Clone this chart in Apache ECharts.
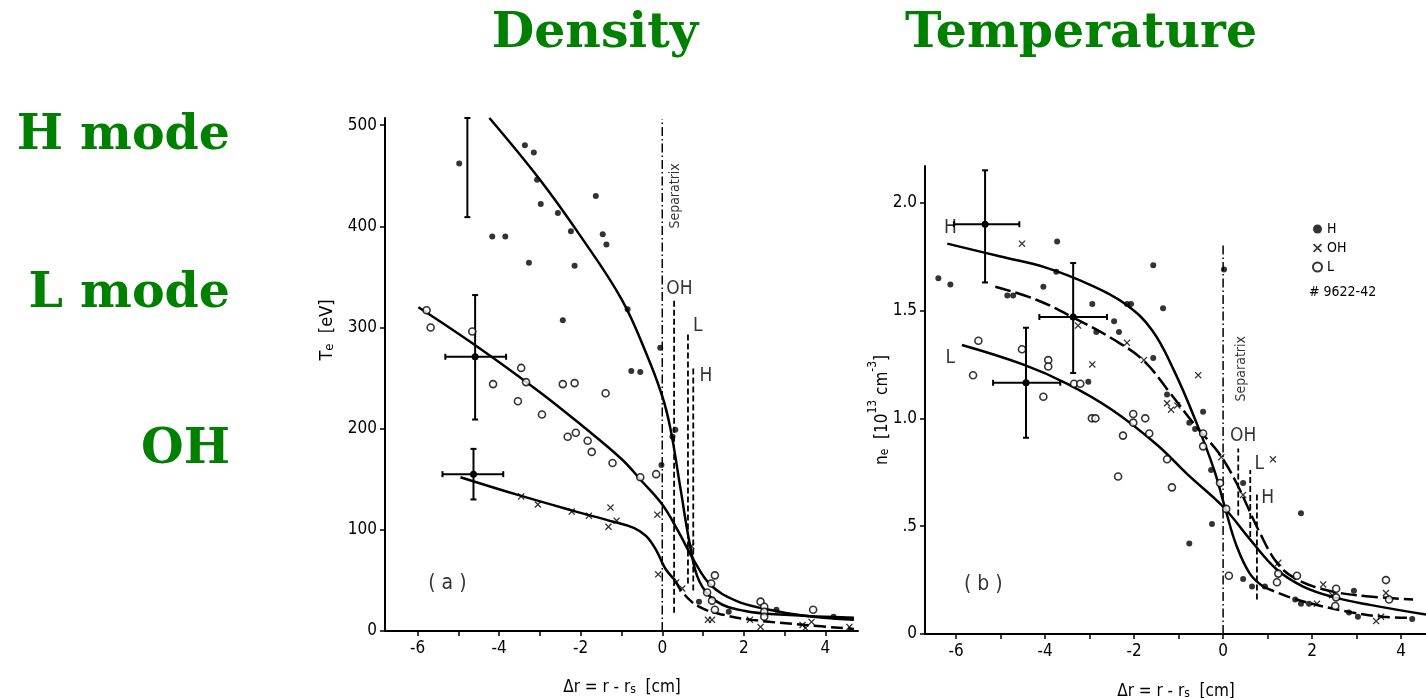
<!DOCTYPE html>
<html><head><meta charset="utf-8">
<script src="https://cdn.jsdelivr.net/npm/echarts@6/dist/echarts.min.js"></script>
<style>html,body{margin:0;padding:0;background:#fff}#c{width:1426px;height:698px}</style>
</head><body><div id="c"></div>
<script>
// ---------- Panel (a): Te [eV] ----------
const aH_dots = [[-4.98,462],[-3.37,480],[-3.15,473],[-3.07,446],[-2.98,422],[-4.17,390],[-3.85,390],[-3.27,364],[-2.56,413],[-1.63,430],[-2.24,395],[-1.46,392],[-1.37,382],[-2.15,361],[-2.44,307],[-0.85,318],[-0.76,257],[-0.54,256],[-0.05,280],[-0.02,164],[0.32,199],[0.25,192],[0.9,29],[1.63,19],[2.8,21],[4.2,14]];
const aL_circles = [[-5.78,317],[-5.68,300],[-4.66,296],[-3.46,260],[-3.34,246],[-4.15,244],[-3.54,227],[-2.95,214],[-2.44,244],[-2.15,245],[-1.39,235],[-2.32,192],[-2.12,196],[-1.83,188],[-1.73,177],[-1.22,166],[-0.54,152],[-0.15,155],[1.29,55],[1.2,47],[1.1,38],[1.22,30],[1.29,21],[2.41,29],[2.5,24],[2.5,19],[2.5,14],[3.7,21]];
const aOH_crosses = [[-3.46,133],[-3.05,125],[-2.22,118],[-1.8,114],[-1.27,122],[-1.32,103],[-1.12,109],[-0.12,115],[-0.1,56],[0.34,48],[0.49,42],[0.71,84],[1.12,11],[1.22,11],[2.15,11],[2.41,4],[3.44,6],[3.51,3],[3.66,9],[4.59,4]];
const aH_curve = [[-4.24,507],[-3.0,446],[-2.0,390],[-1.0,328],[-0.4,275],[0.0,232],[0.2,200],[0.45,140],[0.68,85],[0.9,50],[1.3,30],[2.0,20],[3.0,16],[4.7,13]];
const aL_curve = [[-5.98,320],[-4.5,280],[-3.0,236],[-2.0,204],[-1.0,170],[-0.5,148],[0,125],[0.4,98],[0.8,68],[1.2,45],[1.8,30],[2.5,22],[3.5,15],[4.7,11]];
const aOH_curve = [[-4.95,152],[-3.5,134],[-2.2,119],[-1.2,108],[-0.7,102],[-0.4,94],[-0.15,80],[0.07,62],[0.32,50]];
const aOH_tail = [[0.32,50],[0.5,38],[0.9,24],[1.5,16],[2.2,11],[3.5,6],[4.7,2]];
// error bars: [x, y, xlo, xhi, ylo, yhi, centerDot]
const aErr = [[-4.59,271,-5.32,-3.83,209,332,1],[-4.63,155,-5.39,-3.9,130,180,1],[-4.78,458,-4.78,-4.78,409,507,0]];
const aSep = [[0,0],[0,506]];
const aMarkOH = [[0.29,18],[0.29,327]];
const aMarkL = [[0.63,47],[0.63,295]];
const aMarkH = [[0.76,40],[0.76,260]];

// ---------- Panel (b): ne [10^13 cm^-3] ----------
const bH_dots = [[-6.4,1.65],[-6.13,1.62],[-3.73,1.82],[-3.75,1.68],[-4.04,1.61],[-4.85,1.57],[-4.72,1.57],[-2.94,1.53],[-2.16,1.53],[-2.07,1.53],[-1.57,1.71],[-2.45,1.45],[-2.34,1.40],[-2.85,1.40],[-1.57,1.28],[-3.03,1.17],[0.02,1.69],[-1.35,1.51],[-1.26,1.11],[-0.45,1.03],[-0.63,0.95],[-0.76,0.98],[-0.27,0.76],[-0.25,0.51],[-0.76,0.42],[0.45,0.70],[1.75,0.56],[0.45,0.255],[0.65,0.22],[0.94,0.22],[1.62,0.16],[1.75,0.14],[1.93,0.14],[2.94,0.2],[2.83,0.10],[3.03,0.08],[4.25,0.07]];
const bOH_crosses = [[-4.52,1.81],[-2.94,1.25],[-2.16,1.35],[-1.78,1.27],[-3.26,1.43],[-0.56,1.2],[-1.26,1.07],[-1.17,1.04],[-1.03,1.06],[-0.04,0.82],[0.45,0.645],[1.12,0.81],[1.24,0.33],[2.25,0.23],[2.11,0.14],[2.45,0.18],[3.66,0.19],[3.44,0.06],[3.55,0.08]];
const bL_circles = [[-5.5,1.36],[-5.62,1.2],[-4.52,1.32],[-3.93,1.27],[-3.93,1.24],[-4.04,1.1],[-3.35,1.16],[-3.21,1.16],[-2.95,1.0],[-2.87,1.0],[-2.25,0.92],[-2.36,0.73],[-2.02,1.02],[-2.02,0.98],[-1.75,1.0],[-1.66,0.93],[-1.26,0.81],[-1.15,0.68],[-0.45,0.93],[-0.45,0.87],[-0.07,0.7],[0.07,0.58],[0.13,0.27],[1.24,0.28],[1.21,0.24],[1.66,0.27],[2.54,0.21],[2.54,0.17],[2.52,0.13],[3.66,0.25],[3.73,0.16]];
const bH_curve = [[-6.2,1.81],[-5,1.75],[-4,1.70],[-3,1.62],[-2.2,1.53],[-1.6,1.41],[-1.1,1.22],[-0.6,0.98],[-0.2,0.76],[0.05,0.58],[0.3,0.41],[0.6,0.28],[0.9,0.22]];
const bH_tail = [[0.9,0.22],[1.5,0.17],[2.2,0.13],[2.9,0.1],[3.6,0.08],[4.2,0.075]];
const bOH_curve = [[-5.12,1.61],[-4.2,1.55],[-3.3,1.46],[-2.5,1.37],[-1.8,1.27],[-1.2,1.12],[-0.6,0.96],[-0.1,0.84],[0.3,0.7],[0.8,0.48],[1.21,0.33],[1.6,0.26],[2.2,0.21],[3.0,0.18],[4.27,0.16]];
const bL_curve = [[-5.87,1.34],[-4.5,1.25],[-3.5,1.16],[-2.5,1.04],[-1.5,0.88],[-0.8,0.74],[0,0.59],[0.6,0.44],[1.2,0.30],[1.8,0.22],[2.5,0.17],[3.3,0.135],[4.56,0.09]];
const bErr = [[-5.35,1.9,-6.05,-4.58,1.63,2.15,1],[-3.37,1.47,-4.13,-2.61,1.21,1.72,1],[-4.43,1.165,-5.17,-3.66,0.91,1.42,1]];
const bSep = [[0,0],[0,1.81]];
const bMarkOH = [[0.34,0.55],[0.34,0.86]];
const bMarkL = [[0.61,0.45],[0.61,0.76]];
const bMarkH = [[0.76,0.16],[0.76,0.66]];

// ---------- tick labels ----------
const xTickValues = [-6,-5,-4,-3,-2,-1,0,1,2,3,4];
const xLabelValues = [-6,-4,-2,0,2,4];
const aYTicks = [0,100,200,300,400,500];
const bYTicks = [0,0.5,1,1.5,2];
const bYLabels = {0:'0',0.5:'.5',1:'1.0',1.5:'1.5',2:'2.0'};

const FONT = 'DejaVu Sans Condensed';
const GREEN = '#008000';
const X_SYM = 'path://M0,1.3L1.3,0L5,3.7L8.7,0L10,1.3L6.3,5L10,8.7L8.7,10L5,6.3L1.3,10L0,8.7L3.7,5Z';

function xAx(gi, min, max){
  return {type:'value', gridIndex:gi, min:min, max:max,
    axisLine:{show:true,onZero:false,lineStyle:{color:'#000',width:2}},
    axisTick:{show:true,customValues:xTickValues,length:5,lineStyle:{color:'#000',width:1.5}},
    axisLabel:{customValues:xLabelValues,color:'#000',fontFamily:FONT,fontSize:17,margin:9},
    splitLine:{show:false}};
}
function yAx(gi, min, max, ticks, fmt){
  return {type:'value', gridIndex:gi, min:min, max:max,
    axisLine:{show:true,onZero:false,lineStyle:{color:'#000',width:2}},
    axisTick:{show:true,customValues:ticks,length:5,lineStyle:{color:'#000',width:1.5}},
    axisLabel:{customValues:ticks,color:'#000',fontFamily:FONT,fontSize:17,margin:8,formatter:fmt},
    splitLine:{show:false}};
}
function curve(gi, data, dashed, w){
  return {type:'line', xAxisIndex:gi, yAxisIndex:gi, data:data, showSymbol:false, smooth:0.4,
    lineStyle:{color:'#000',width:w||2.5,type:dashed||'solid'}, silent:true, z:2};
}
function vline(gi, data, type, w){
  return {type:'line', xAxisIndex:gi, yAxisIndex:gi, data:data, showSymbol:false,
    lineStyle:{color:'#000',width:w||1.6,type:type}, silent:true, z:1};
}
function dots(gi, name, data){
  return {type:'scatter', name:name, xAxisIndex:gi, yAxisIndex:gi, data:data, symbol:'circle', symbolSize:6,
    itemStyle:{color:'#000'}, silent:true, z:4};
}
function circles(gi, name, data){
  return {type:'scatter', name:name, xAxisIndex:gi, yAxisIndex:gi, data:data, symbol:'circle', symbolSize:7,
    itemStyle:{color:'#fff',borderColor:'#000',borderWidth:1.6}, silent:true, z:4};
}
function crosses(gi, name, data){
  return {type:'scatter', name:name, xAxisIndex:gi, yAxisIndex:gi, data:data, symbol:X_SYM, symbolSize:7,
    itemStyle:{color:'#000'}, silent:true, z:4};
}
function renderErr(params, api){
  const x=api.value(0), y=api.value(1), xlo=api.value(2), xhi=api.value(3), ylo=api.value(4), yhi=api.value(5), c=api.value(6);
  const st={stroke:'#000',lineWidth:2};
  const ch=[];
  const b=api.coord([x,ylo]), t=api.coord([x,yhi]);
  ch.push({type:'line',shape:{x1:b[0],y1:b[1],x2:t[0],y2:t[1]},style:st});
  ch.push({type:'line',shape:{x1:b[0]-3,y1:b[1],x2:b[0]+3,y2:b[1]},style:st});
  ch.push({type:'line',shape:{x1:t[0]-3,y1:t[1],x2:t[0]+3,y2:t[1]},style:st});
  if (xhi > xlo){
    const l=api.coord([xlo,y]), r=api.coord([xhi,y]);
    ch.push({type:'line',shape:{x1:l[0],y1:l[1],x2:r[0],y2:r[1]},style:st});
    ch.push({type:'line',shape:{x1:l[0],y1:l[1]-3,x2:l[0],y2:l[1]+3},style:st});
    ch.push({type:'line',shape:{x1:r[0],y1:r[1]-3,x2:r[0],y2:r[1]+3},style:st});
  }
  if (c){ const p=api.coord([x,y]); ch.push({type:'circle',shape:{cx:p[0],cy:p[1],r:3.5},style:{fill:'#000'}}); }
  return {type:'group',children:ch};
}
function errSeries(gi, data){
  return {type:'custom', xAxisIndex:gi, yAxisIndex:gi, data:data, renderItem:renderErr, silent:true, z:3};
}
function labels(gi, items, size, rotate){
  return {type:'scatter', xAxisIndex:gi, yAxisIndex:gi, symbolSize:0, silent:true, z:5,
    data:items.map(o=>({value:o[0], name:o[1]})),
    label:{show:true, position:'inside', formatter:'{b}', color:'#000', fontFamily:FONT, fontSize:size, rotate:rotate||0}};
}
const DASHDOT = [9,3,1.5,3];

const series = [
  // panel a
  vline(0, aSep, DASHDOT, 1.5),
  vline(0, aMarkOH, [6,3], 1.8),
  vline(0, aMarkL, [6,3], 1.8),
  vline(0, aMarkH, [6,3], 1.8),
  curve(0, aH_curve), curve(0, aL_curve), curve(0, aOH_curve), curve(0, aOH_tail, [12,5]),
  errSeries(0, aErr),
  dots(0, 'H(a)', aH_dots), circles(0, 'L(a)', aL_circles), crosses(0, 'OH(a)', aOH_crosses),
  labels(0, [[[0.42,338],'OH'],[[0.87,301],'L'],[[1.07,252],'H']], 19),
  labels(0, [[[-5.27,47],'( a )']], 21),
  labels(0, [[[0.33,430],'Separatrix']], 14, 90),
  // panel b
  vline(1, bSep, DASHDOT, 1.5),
  vline(1, bMarkOH, [6,3], 1.8),
  vline(1, bMarkL, [6,3], 1.8),
  vline(1, bMarkH, [6,3], 1.8),
  curve(1, bH_curve), curve(1, bH_tail, [12,5]), curve(1, bOH_curve, [16,5]), curve(1, bL_curve),
  errSeries(1, bErr),
  dots(1, 'H', bH_dots), crosses(1, 'OH', bOH_crosses), circles(1, 'L', bL_circles),
  labels(1, [[[0.45,0.92],'OH'],[[0.81,0.79],'L'],[[1.0,0.63],'H'],[[-6.13,1.88],'H'],[[-6.13,1.28],'L']], 19),
  labels(1, [[[-5.39,0.23],'( b )']], 21),
  labels(1, [[[0.4,1.23],'Separatrix']], 14, 90)
];

const TITLE_FONT = 'bold 49px "DejaVu Serif"';
const chart = echarts.init(document.getElementById('c'), null, {renderer:'canvas'});
chart.setOption({
  animation:false,
  backgroundColor:'#fff',
  grid:[{left:385, top:118, width:473, height:513},{left:925, top:166, width:501, height:468}],
  xAxis:[xAx(0,-6.8,4.8), xAx(1,-6.7,4.56)],
  yAxis:[yAx(0,0,507,aYTicks), yAx(1,0,2.17,bYTicks,v=>bYLabels[v])],
  legend:{data:['H','OH','L'], orient:'vertical', left:1307, top:216, itemWidth:9, itemHeight:9, itemGap:3,
    selectedMode:false, textStyle:{fontFamily:FONT,fontSize:14,color:'#000',lineHeight:16}},
  series:series,
  graphic:[
    {type:'text', x:595, y:34, style:{text:'Density', align:'center', verticalAlign:'middle', font:TITLE_FONT, fill:GREEN}},
    {type:'text', x:1081, y:34, style:{text:'Temperature', align:'center', verticalAlign:'middle', font:TITLE_FONT, fill:GREEN}},
    {type:'text', x:230, y:136, style:{text:'H mode', align:'right', verticalAlign:'middle', font:TITLE_FONT, fill:GREEN}},
    {type:'text', x:230, y:294, style:{text:'L mode', align:'right', verticalAlign:'middle', font:TITLE_FONT, fill:GREEN}},
    {type:'text', x:230, y:450, style:{text:'OH', align:'right', verticalAlign:'middle', font:TITLE_FONT, fill:GREEN}},
    {type:'text', x:1309, y:292, style:{text:'# 9622-42', align:'left', verticalAlign:'middle', font:'14px "DejaVu Sans Condensed"', fill:'#000'}},
    {type:'text', x:324, y:330, rotation:Math.PI/2,
      style:{text:'{n|T}{s|e}{n|  [eV]}', align:'center', verticalAlign:'middle', fill:'#000',
        rich:{n:{fontFamily:FONT,fontSize:18,fill:'#000',verticalAlign:'bottom',lineHeight:20},s:{fontFamily:FONT,fontSize:13,fill:'#000',verticalAlign:'bottom',lineHeight:25}}}},
    {type:'text', x:622, y:684,
      style:{text:'{n|Δr = r - r}{s|s}{n|  [cm]}', align:'center', verticalAlign:'middle', fill:'#000',
        rich:{n:{fontFamily:FONT,fontSize:17,fill:'#000',verticalAlign:'bottom',lineHeight:20},s:{fontFamily:FONT,fontSize:12,fill:'#000',verticalAlign:'bottom',lineHeight:24}}}},
    {type:'text', x:1176, y:688,
      style:{text:'{n|Δr = r - r}{s|s}{n|  [cm]}', align:'center', verticalAlign:'middle', fill:'#000',
        rich:{n:{fontFamily:FONT,fontSize:17,fill:'#000',verticalAlign:'bottom',lineHeight:20},s:{fontFamily:FONT,fontSize:12,fill:'#000',verticalAlign:'bottom',lineHeight:24}}}},
    {type:'text', x:879, y:410, rotation:Math.PI/2,
      style:{text:'{n|n}{s|e}{n|  [10}{p|13}{n| cm}{p|-3}{n|]}', align:'center', verticalAlign:'middle', fill:'#000',
        rich:{n:{fontFamily:FONT,fontSize:17,fill:'#000',verticalAlign:'bottom',lineHeight:20},
              s:{fontFamily:FONT,fontSize:12,fill:'#000',verticalAlign:'bottom',lineHeight:24},
              p:{fontFamily:FONT,fontSize:12,fill:'#000',verticalAlign:'top',lineHeight:14}}}}
  ]
});
</script></body></html>
